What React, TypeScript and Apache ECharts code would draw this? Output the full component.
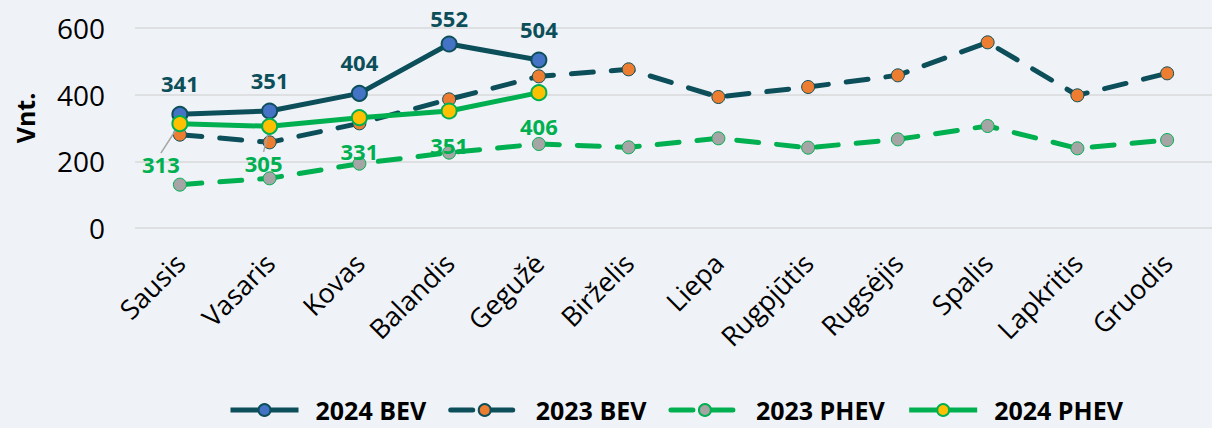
import React, { useEffect, useRef } from "react";
import * as echarts from "echarts";

const months = ["Sausis", "Vasaris", "Kovas", "Balandis", "Gegužė", "Birželis", "Liepa", "Rugpjūtis", "Rugsėjis", "Spalis", "Lapkritis", "Gruodis"];
const bev2024 = [341, 351, 404, 552, 504];
const bev2023 = [280, 257, 314, 386, 455, 476, 393, 423, 458, 557, 398, 464];
const phev2023 = [130, 149, 193, 226, 252, 242, 269, 241, 266, 306, 239, 264];
const phev2024 = [313, 305, 331, 351, 406];
const yTicks = [0, 200, 400, 600];

const TEAL = "#0c4f5a";
const GREEN = "#00b050";
const FONT = "Open Sans";

export default function App() {
  const ref = useRef<HTMLDivElement>(null);
  useEffect(() => {
    document.body.style.margin = "0";
    const chart = echarts.init(ref.current!, null, { renderer: "svg" });
    const phevData = phev2024.map((v, i) => (i < 2 ? { value: v, labelLine: { show: true, lineStyle: { color: "#a5a5a5", width: 1.5 } } } : v));
    const phevShift: number[][] = [
      [-19, 7],
      [-6, 3],
    ];
    const bevShift: Record<number, number[]> = { 3: [0, 5] };
    chart.setOption({
      animation: false,
      backgroundColor: "#eff3f7",
      textStyle: { fontFamily: FONT },
      grid: { left: 135, right: 0, top: 28, height: 200, containLabel: false },
      legend: {
        data: ["2024 BEV", "2023 BEV", "2023 PHEV", "2024 PHEV"],
        top: 397,
        left: 228,
        padding: 0,
        itemWidth: 68,
        itemHeight: 15,
        itemGap: 22,
        lineStyle: { width: 5 },
        textStyle: { fontFamily: FONT, fontSize: 25, lineHeight: 26, fontWeight: "bold", color: "#000", padding: [0, 0, 0, 12] },
      },
      xAxis: {
        type: "category",
        data: months,
        boundaryGap: true,
        axisLine: { show: false },
        axisTick: { show: false },
        axisLabel: { rotate: 45, fontSize: 27, color: "#000", margin: 30, fontFamily: FONT, interval: 0 },
      },
      yAxis: {
        type: "value",
        min: yTicks[0],
        max: yTicks[yTicks.length - 1],
        interval: 200,
        name: "Vnt.",
        nameLocation: "middle",
        nameGap: 98,
        nameTextStyle: { fontSize: 25, fontWeight: "bold", color: "#000", fontFamily: FONT, padding: [0, 0, 0, 20] },
        axisLine: { show: false },
        axisTick: { show: false },
        axisLabel: { fontSize: 28, color: "#000", margin: 30, fontFamily: FONT },
        splitLine: { lineStyle: { color: "#d9d9d9", width: 1.5 } },
      },
      series: [
        {
          name: "2023 PHEV",
          type: "line",
          data: phev2023,
          symbol: "circle",
          symbolSize: 13,
          z: 2,
          lineStyle: { color: GREEN, width: 5, type: [22, 18], cap: "round" },
          itemStyle: { color: "#a5a5a5", borderColor: GREEN, borderWidth: 1 },
        },
        {
          name: "2023 BEV",
          type: "line",
          data: bev2023,
          symbol: "circle",
          symbolSize: 13,
          z: 3,
          lineStyle: { color: TEAL, width: 5, type: [22, 18], cap: "round" },
          itemStyle: { color: "#ed7d31", borderColor: TEAL, borderWidth: 1 },
        },
        {
          name: "2024 BEV",
          type: "line",
          data: bev2024,
          symbol: "circle",
          symbolSize: 15,
          z: 4,
          lineStyle: { color: TEAL, width: 5 },
          itemStyle: { color: "#4472c4", borderColor: TEAL, borderWidth: 2 },
          label: { show: true, position: "top", distance: 12, fontSize: 22, fontWeight: "bold", color: TEAL, fontFamily: FONT },
          labelLayout: (p: any) => {
            const s = bevShift[p.dataIndex];
            return s ? { dx: s[0], dy: s[1] } : {};
          },
        },
        {
          name: "2024 PHEV",
          type: "line",
          data: phevData,
          symbol: "circle",
          symbolSize: 15,
          z: 5,
          lineStyle: { color: GREEN, width: 5 },
          itemStyle: { color: "#ffc000", borderColor: GREEN, borderWidth: 2 },
          label: { show: true, position: "bottom", distance: 14, fontSize: 22, fontWeight: "bold", color: GREEN, fontFamily: FONT },
          labelLine: { show: false, lineStyle: { color: "#a5a5a5", width: 1.5 } },
          labelLayout: (p: any) => {
            const s = phevShift[p.dataIndex];
            return s ? { dx: s[0], dy: s[1] } : {};
          },
        },
      ],
    });
    return () => chart.dispose();
  }, []);
  return <div ref={ref} style={{ position: "absolute", left: 0, top: 0, width: 1212, height: 428 }} />;
}
